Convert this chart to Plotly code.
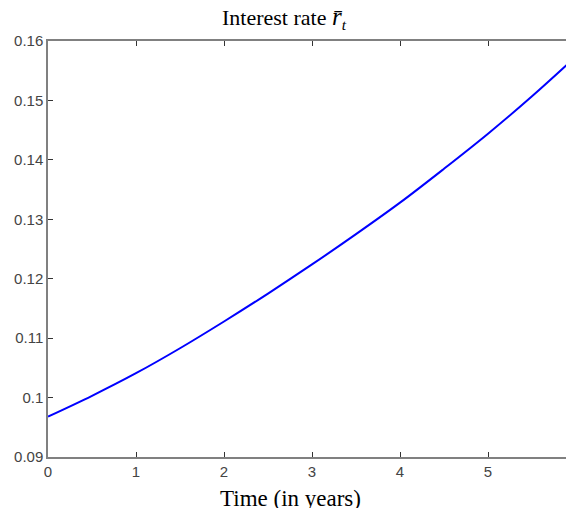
import plotly.graph_objects as go

# time in years and the interest rate
t = [0, 0.5, 1, 1.5, 2, 2.5, 3, 3.5, 4, 4.5, 5, 5.5, 6]
rate = [0.0968, 0.1003, 0.1041, 0.1083, 0.1128, 0.1175, 0.1224,
        0.1275, 0.1328, 0.1385, 0.1444, 0.1507, 0.1574]

x_ticks = [0, 1, 2, 3, 4, 5, 6]
y_ticks = [0.09, 0.10, 0.11, 0.12, 0.13, 0.14, 0.15, 0.16]
y_labels = ['0.09', '0.1', '0.11', '0.12', '0.13', '0.14', '0.15', '0.16']

trace = go.Scatter(x=t, y=rate, mode='lines',
                   line=dict(color='#0000ff', width=2, shape='spline'),
                   showlegend=False)

axis_style = dict(showline=True, linecolor='#808080', linewidth=1.5,
                  mirror='ticks', ticks='inside', ticklen=5,
                  tickcolor='#333333', tickwidth=1, showgrid=False,
                  zeroline=False, automargin=False,
                  tickfont=dict(family='Liberation Sans, Arial', size=15,
                                color='#444444'))

# the page body adds an 8px offset, so the margins are shifted to match
layout = go.Layout(
    width=574, height=508,
    margin=dict(l=40, r=6, t=33, b=59),
    paper_bgcolor='white', plot_bgcolor='white',
    xaxis=dict(range=[0, 6], tickvals=x_ticks, **axis_style),
    yaxis=dict(range=[0.09, 0.16], tickvals=y_ticks, ticktext=y_labels,
               **axis_style),
    annotations=[
        dict(text='Interest rate <span style="font-size:25px"><i>r\u0304</i></span>'
                  '<sub><i>t</i></sub>',
             xref='paper', yref='paper', x=0.447, y=1.0, yshift=6,
             xanchor='center', yanchor='bottom', showarrow=False,
             font=dict(family='Liberation Serif, Times New Roman', size=22,
                       color='black')),
        dict(text='Time (in years)',
             xref='paper', yref='paper', x=0.46, y=0, yshift=-27,
             xanchor='center', yanchor='top', showarrow=False,
             font=dict(family='Liberation Serif, Times New Roman', size=23,
                       color='black')),
    ])

fig = go.Figure(data=[trace], layout=layout)
fig.write_html('out.html')
